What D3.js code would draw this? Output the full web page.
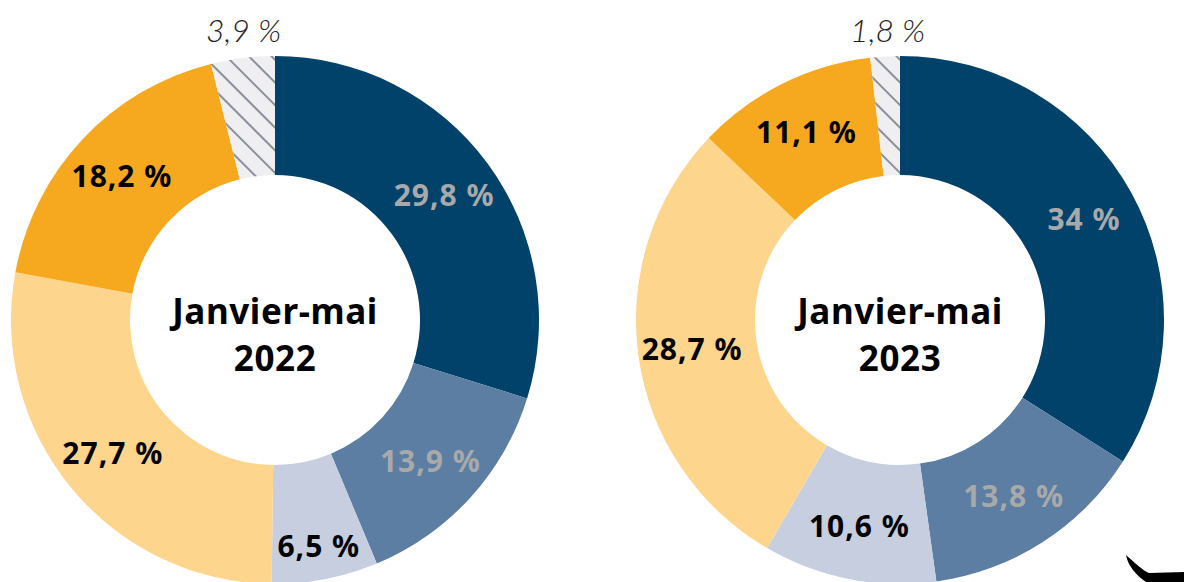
<!DOCTYPE html>
<html>
<head>
<meta charset="utf-8">
<script src="https://cdn.jsdelivr.net/npm/d3@7"></script>
<style>
  body { margin: 0; background: white; }
  svg { display: block; }
</style>
</head>
<body>
<div id="container"></div>
<script>
let w = 1184;
let h = 582;

// DATA
let categories = ["cat1", "cat2", "cat3", "cat4", "cat5", "autres"];
let values2022 = [29.8, 13.9, 6.5, 27.7, 18.2, 3.9];
let values2023 = [34, 13.8, 10.6, 28.7, 11.1, 1.8];
let titles = ["2022", "2023"];

let colors = ["#00426a", "#5c7ea2", "#c6cee0", "#fdd58d", "#f6a91e", "url(#hatch)"];
let labelColors = ["#a9a9a9", "#a9a9a9", "#000", "#000", "#000", "#333"];

let viz = d3.select("#container").append("svg")
  .attr("width", w)
  .attr("height", h)
  .style("background-color", "white");

// hatch pattern for the small grey slice
let defs = viz.append("defs");
let pat = defs.append("pattern")
  .attr("id", "hatch")
  .attr("patternUnits", "userSpaceOnUse")
  .attr("width", 16)
  .attr("height", 16)
  .attr("patternTransform", "rotate(45)");
pat.append("rect").attr("width", 16).attr("height", 16).attr("fill", "#efeff1");
pat.append("line")
  .attr("x1", 0).attr("y1", 8).attr("x2", 16).attr("y2", 8)
  .attr("stroke", "#8b909b").attr("stroke-width", 2);

let outerR = 264;
let innerR = 145;
let centers = [[275, 320], [900, 320]];

let pie = d3.pie().sort(null).value(d => d);
let arcMaker = d3.arc().innerRadius(innerR).outerRadius(outerR);

function fmt(v) {
  return String(v).replace(".", ",") + " %";
}

[values2022, values2023].forEach((vals, i) => {
  let g = viz.append("g")
    .attr("transform", "translate(" + centers[i][0] + "," + centers[i][1] + ")");

  let arcs = pie(vals);

  g.selectAll(".slice").data(arcs).enter()
    .append("path")
    .attr("class", "slice")
    .attr("d", arcMaker)
    .attr("fill", (d, j) => colors[j]);

  // labels inside the ring
  g.selectAll(".lbl").data(arcs.slice(0, 5)).enter()
    .append("text")
    .attr("class", "lbl")
    .attr("transform", d => {
      let r = d.data < 8 ? 230 : 210;
      let c = d3.arc().innerRadius(r).outerRadius(r).centroid(d);
      return "translate(" + c[0] + "," + c[1] + ")";
    })
    .attr("text-anchor", "middle")
    .attr("dy", "0.36em")
    .style("font-family", "'Noto Sans', sans-serif")
    .style("font-weight", 700)
    .style("font-size", "30px")
    .style("letter-spacing", "1px")
    .attr("fill", (d, j) => labelColors[j])
    .text(d => fmt(d.data));

  // small slice label above the ring
  let last = arcs[5];
  let lc = d3.arc().innerRadius(290).outerRadius(290).centroid(last);
  g.append("text")
    .attr("x", lc[0] + 4)
    .attr("y", -290)
    .attr("text-anchor", "middle")
    .attr("dy", "0.36em")
    .style("font-family", "Lato, 'Noto Sans', sans-serif")
    .style("font-weight", 300)
    .style("font-style", "italic")
    .style("font-size", "32px")
    .attr("fill", "#222")
    .text(fmt(last.data));

  // center title
  let t = g.append("text")
    .attr("text-anchor", "middle")
    .style("font-family", "'Noto Sans', sans-serif")
    .style("font-weight", 700)
    .style("font-size", "35px")
    .style("letter-spacing", "0.6px")
    .attr("fill", "#000");
  t.append("tspan").attr("x", 0).attr("y", 4).text("Janvier-mai");
  t.append("tspan").attr("x", 0).attr("y", 51).text(titles[i]);
});

// logo corner
viz.append("path")
  .attr("d", "M1126,555 C1134,562 1142,570 1149,573 L1184,572 L1184,582 L1146,582 C1136,575 1128,566 1126,555 Z")
  .attr("fill", "#000");
</script>
</body>
</html>
